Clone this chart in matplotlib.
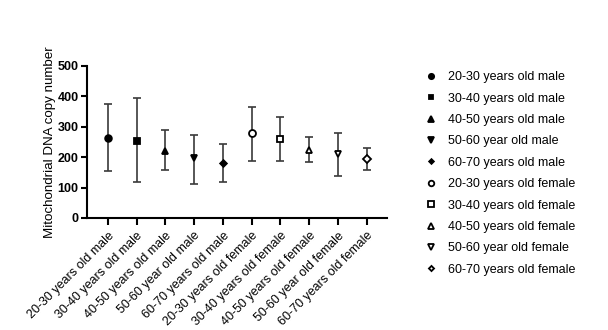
import matplotlib
matplotlib.use("Agg")
import matplotlib.pyplot as plt
from matplotlib.lines import Line2D

plt.rcParams['font.family'] = ['Liberation Sans', 'DejaVu Sans']

# Groups, means and error bar limits
groups = ["20-30 years old male", "30-40 years old male", "40-50 years old male",
          "50-60 year old male", "60-70 years old male",
          "20-30 years old female", "30-40 years old female", "40-50 years old female",
          "50-60 year old female", "60-70 years old female"]
means = [264, 254, 221, 196, 181, 278, 260, 223, 212, 194]
upper = [376, 396, 289, 274, 245, 366, 332, 267, 281, 229]
lower = [154, 117, 157, 111, 117, 188, 187, 183, 139, 157]

markers = ["o", "s", "^", "v", "D", "o", "s", "^", "v", "D"]
filled = [True] * 5 + [False] * 5
sizes = [4.8, 4.6, 4.8, 4.8, 3.4, 5, 4.8, 5, 5, 3.6]

fig = plt.figure(figsize=(6.08, 3.30), dpi=100)
ax = fig.add_axes([87 / 608, 1 - 218 / 330, 300 / 608, 152 / 330])

handles = []
for i, g in enumerate(groups):
    m = means[i]
    yerr = [[m - lower[i]], [upper[i] - m]]
    ax.errorbar([i], [m], yerr=yerr, fmt="none", ecolor="#3a3a3a",
                elinewidth=1.2, capsize=3, capthick=1.2, zorder=2)
    face = "black" if filled[i] else "white"
    ax.plot([i], [m], marker=markers[i], markersize=sizes[i], color="black",
            markerfacecolor=face, markeredgewidth=1.3, linestyle="none", zorder=3)
    handles.append(Line2D([], [], marker=markers[i], markersize=sizes[i] - 1,
                          color="black", markerfacecolor=face,
                          markeredgewidth=1.3, linestyle="none", label=g))

ax.set_xlim(-0.72, 9.7)
ax.set_ylim(0, 500)
ax.set_yticks([0, 100, 200, 300, 400, 500])
ax.set_xticks(range(len(groups)))
ax.set_xticklabels(groups, rotation=45, ha="right", rotation_mode="anchor",
                   fontsize=9)
ax.tick_params(axis="y", labelsize=9, width=1.5, length=4, pad=2)
ax.tick_params(axis="x", width=1.5, length=5)
for lbl in ax.get_yticklabels():
    lbl.set_fontweight("bold")

for side in ["top", "right"]:
    ax.spines[side].set_visible(False)
for side in ["left", "bottom"]:
    ax.spines[side].set_linewidth(1.5)

ax.set_ylabel("Mitochondrial DNA copy number", fontsize=9.6, labelpad=1)

fig.legend(handles=handles, loc="upper left", bbox_to_anchor=(413 / 608, 1 - 60 / 330),
           frameon=False, fontsize=9, handletextpad=0.9, labelspacing=0.75,
           handlelength=1.0)

fig.savefig("out.png", dpi=100)
